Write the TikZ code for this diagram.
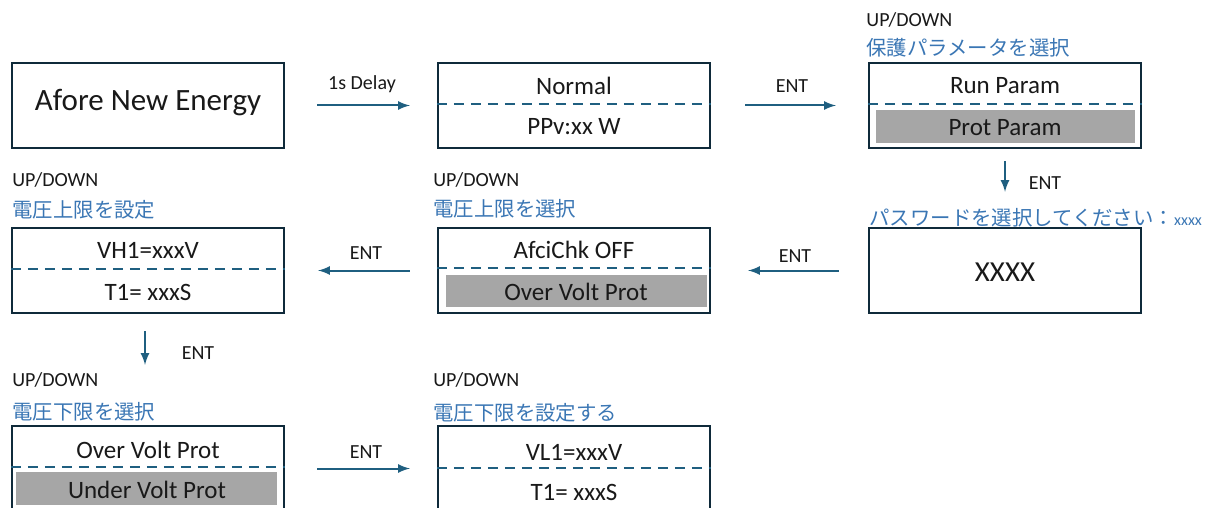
\documentclass[tikz,border=0pt]{standalone}
\usepackage{fontspec}
\setmainfont{Carlito}
\newfontfamily\jpfont{Noto Sans CJK JP}
\usepackage{xcolor}
\usepackage{tikz}
\usetikzlibrary{calc, positioning}

\definecolor{frame}{HTML}{0F2A3A}
\definecolor{flow}{HTML}{1F5F80}
\definecolor{hint}{HTML}{3A76B4}
\definecolor{sel}{HTML}{A6A6A6}

\tikzset{
    screen/.style={draw=frame, line width=1.2pt, minimum width=136pt, minimum height=42.5pt, inner sep=0pt},
    arr/.style={->, draw=flow, line width=1pt},
    dashline/.style={draw=flow, line width=1.1pt, dash pattern=on 5pt off 3.5pt},
    txt/.style={font=\fontsize{12.5}{14}\selectfont, text=black!90, inner sep=0pt},
    lbl/.style={font=\fontsize{10}{12}\selectfont, text=black!90, inner sep=0pt},
    key/.style={font=\fontsize{10}{12}\selectfont, text=black!90, inner sep=0pt, anchor=west},
    jp/.style={font=\fontsize{10.2}{12}\selectfont\jpfont, text=hint, inner sep=0pt, anchor=west},
}

\begin{document}
\begin{tikzpicture}[>=latex, x=0.5pt, y=-0.5pt]
    \useasboundingbox (0,0) rectangle (1209,508);
    \clip (0,0) rectangle (1209,508);

    % Các màn hình
    \node[screen] (afore) at (148,105.5) {};
    \node[screen] (normal) at (574,105.5) {};
    \node[screen] (param) at (1005,105.5) {};
    \node[screen] (pwd) at (1005,270.5) {};
    \node[screen] (afci) at (574,270.5) {};
    \node[screen] (vh) at (148,270.5) {};
    \node[screen] (volt) at (148,468.5) {};
    \node[screen] (vl) at (574,468.5) {};

    % Dòng được chọn (nền xám)
    \fill[sel] (876,110) rectangle (1135,143);
    \fill[sel] (446,275) rectangle (707,307);
    \fill[sel] (16,472) rectangle (277,505);

    % Đường nét đứt
    \draw[dashline] ([yshift=0.75pt]normal.west) -- ([yshift=0.75pt]normal.east);
    \draw[dashline] ([yshift=0.75pt]param.west) -- ([yshift=0.75pt]param.east);
    \draw[dashline] ([yshift=1.25pt]afci.west) -- ([yshift=1.25pt]afci.east);
    \draw[dashline] ([yshift=0.75pt]vh.west) -- ([yshift=0.75pt]vh.east);
    \draw[dashline] ([yshift=0.75pt]volt.west) -- ([yshift=0.75pt]volt.east);
    \draw[dashline] ([yshift=0.25pt]vl.west) -- ([yshift=0.25pt]vl.east);

    % Nội dung màn hình
    \node[txt, font=\fontsize{15.5}{18}\selectfont] (aforetxt) at (148,103) {Afore New Energy};
    \node[txt] (normaltop) at (574,86) {Normal};
    \node[txt] (normalbot) at (574,127) {PPv:xx W};
    \node[txt] (paramtop) at (1005,86) {Run Param};
    \node[txt] (parambot) at (1005,128) {Prot Param};
    \node[txt, font=\fontsize{14.5}{17}\selectfont] (pwdtxt) at (1005,272) {XXXX};
    \node[txt] (afcitop) at (574,250) {AfciChk OFF};
    \node[txt] (afcibot) at (576,292) {Over Volt Prot};
    \node[txt] (vhtop) at (148,250) {VH1=xxxV};
    \node[txt] (vhbot) at (148,292) {T1= xxxS};
    \node[txt] (volttop) at (148,450) {Over Volt Prot};
    \node[txt] (voltbot) at (147,490) {Under Volt Prot};
    \node[txt] (vltop) at (574,452) {VL1=xxxV};
    \node[txt] (vlbot) at (574,492) {T1= xxxS};

    % Chú thích phím
    \node[key] (ud1) at (866,20) {UP/DOWN};
    \node[jp] (hint1) at (866,48) {保護パラメータを選択};
    \node[jp] (hint2) at (869,218) {パスワードを選択してください：{\fontsize{8}{9}\selectfont\rmfamily xxxx}};
    \node[key] (ud2) at (433,180) {UP/DOWN};
    \node[jp] (hint3) at (433,209) {電圧上限を選択};
    \node[key] (ud3) at (12,180) {UP/DOWN};
    \node[jp] (hint4) at (12,210) {電圧上限を設定};
    \node[key] (ud4) at (12,380) {UP/DOWN};
    \node[jp] (hint5) at (12,412) {電圧下限を選択};
    \node[key] (ud5) at (433,380) {UP/DOWN};
    \node[jp] (hint6) at (433,413) {電圧下限を設定する};

    % Mũi tên chuyển màn hình
    \draw[arr, shorten <=16pt, shorten >=13.5pt] (afore) -- (normal);
    \draw[arr, shorten <=17pt, shorten >=16pt] (normal) -- (param);
    \draw[arr, shorten <=6pt, shorten >=17.5pt] (param) -- (pwd);
    \draw[arr, shorten <=14.5pt, shorten >=18.5pt] (pwd) -- (afci);
    \draw[arr, shorten <=13.5pt, shorten >=16.5pt] (afci) -- (vh);
    \draw[arr, shorten <=8.5pt, shorten >=30pt] ([xshift=-1.5pt]vh.south) -- ([xshift=-1.5pt]volt.north);
    \draw[arr, shorten <=16pt, shorten >=13.5pt] (volt) -- (vl);

    % Nhãn trên mũi tên
    \node[lbl] (delay) at (362,84) {1s Delay};
    \node[lbl] (ent1) at (792,86) {ENT};
    \node[lbl] (ent2) at (1045,183) {ENT};
    \node[lbl] (ent3) at (795,256) {ENT};
    \node[lbl] (ent4) at (366,253) {ENT};
    \node[lbl] (ent5) at (198,353) {ENT};
    \node[lbl] (ent6) at (366,452) {ENT};
\end{tikzpicture}
\end{document}
